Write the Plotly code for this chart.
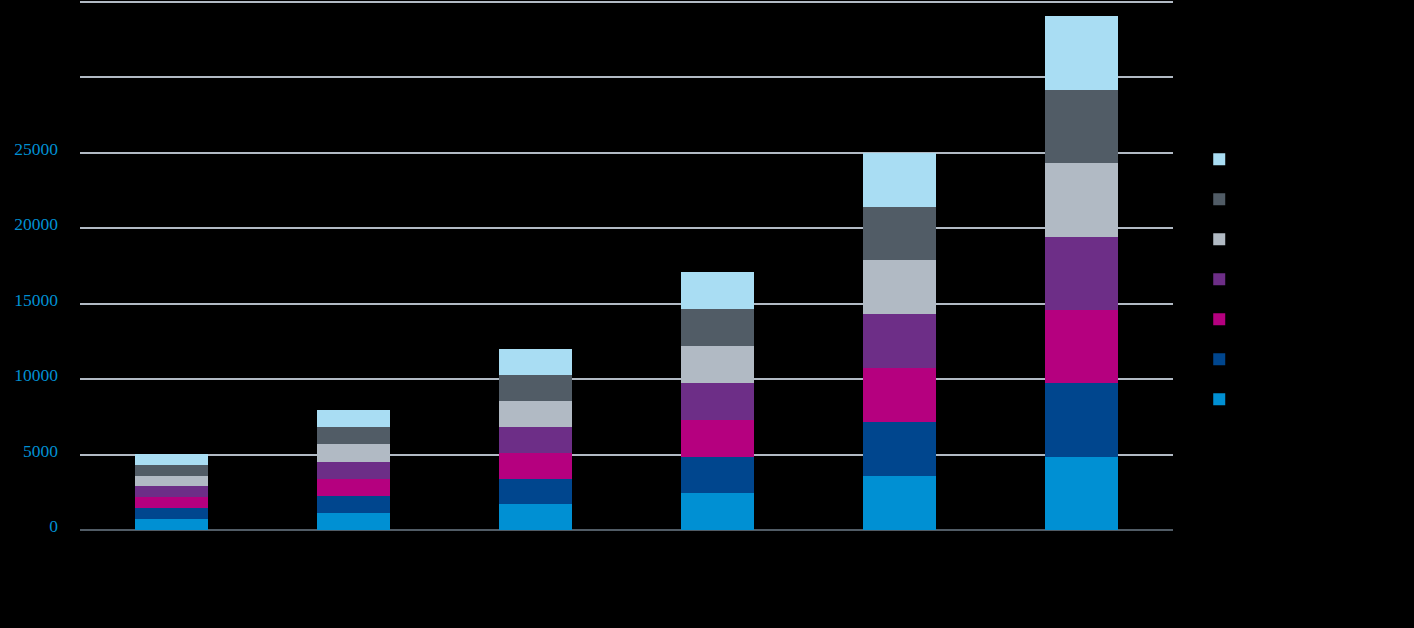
import plotly.graph_objects as go

categories = ["Cat 1", "Cat 2", "Cat 3", "Cat 4", "Cat 5", "Cat 6"]

series_names = ["Series 1", "Series 2", "Series 3", "Series 4", "Series 5", "Series 6", "Series 7"]
series_colors = ["#0090d3", "#00468e", "#b5007f", "#6d2e87", "#b1bac4", "#515c66", "#a9ddf3"]

s1 = [700, 1130, 1720, 2420, 3560, 4860]
s2 = [730, 1130, 1660, 2450, 3580, 4870]
s3 = [750, 1130, 1700, 2430, 3580, 4860]
s4 = [710, 1130, 1740, 2430, 3600, 4860]
s5 = [680, 1190, 1720, 2450, 3580, 4850]
s6 = [730, 1130, 1720, 2450, 3510, 4870]
s7 = [710, 1130, 1720, 2440, 3580, 4880]
series_values = [s1, s2, s3, s4, s5, s6, s7]

tick_vals = [0, 5000, 10000, 15000, 20000, 25000, 30000, 35000]
tick_text = ["0", "5000", "10000", "15000", "20000", "25000", "", ""]

fig = go.Figure()
n = len(series_names)
for i, (name, color, vals) in enumerate(zip(series_names, series_colors, series_values)):
    fig.add_trace(go.Bar(
        x=categories, y=vals, name=name, legendgroup=name,
        legendrank=1000 + (n - i),
        marker=dict(color=color, line=dict(width=0)),
    ))

fig.update_layout(
    width=1414, height=628,
    barmode="stack", bargap=0.6,
    paper_bgcolor="#000000", plot_bgcolor="#000000",
    margin=dict(l=80, r=241, t=0, b=98),
    showlegend=True,
    legend=dict(
        x=1.024, y=0.727, xanchor="left", yanchor="top",
        traceorder="grouped", tracegroupgap=21,
        font=dict(color="#000000", size=12, family="Liberation Serif"),
        bgcolor="rgba(0,0,0,0)",
        itemwidth=30,
    ),
    xaxis=dict(
        showticklabels=False, showgrid=False, zeroline=False,
        showline=False, ticks="",
    ),
    yaxis=dict(
        range=[0, 35133],
        tickvals=tick_vals, ticktext=tick_text,
        tickfont=dict(family="Liberation Serif", size=17.5, color="#0090d3"),
        showgrid=True, gridcolor="#b1bac4", gridwidth=2,
        zeroline=True, zerolinecolor="#515c66", zerolinewidth=2,
        showline=False, ticks="",
        ticklabelstandoff=21,
        ticklabelshift=-4,
    ),
)

fig.write_html("out.html")
